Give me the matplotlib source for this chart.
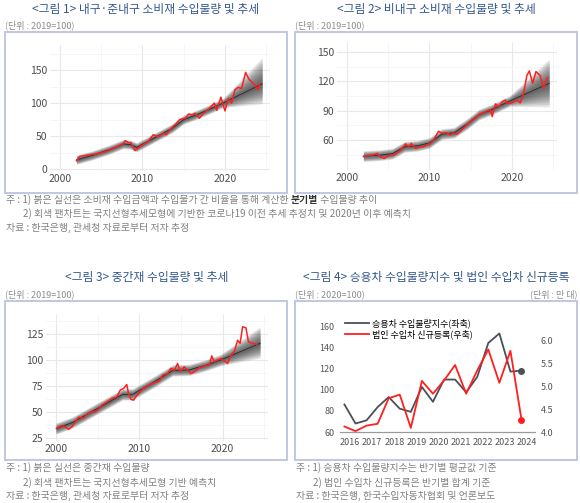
import numpy as np
import matplotlib.pyplot as plt
from matplotlib.patches import Rectangle

plt.rcParams['font.family'] = ['Noto Sans CJK KR', 'DejaVu Sans']

# ---- 그림 1: 내구·준내구 소비재 ----
c1_red_x = [2002.0, 2002.4, 2003.0, 2003.6, 2004.2, 2004.8, 2005.3, 2005.7, 2006.5, 2007.1,
            2007.7, 2007.9, 2008.3, 2008.6, 2008.9, 2009.1, 2009.7, 2010.1, 2010.7, 2011.3,
            2011.9, 2012.5, 2012.9, 2013.5, 2014.1, 2014.5, 2015.2, 2015.6, 2016.0, 2016.4,
            2016.9, 2017.4, 2018.0, 2018.7, 2019.0, 2019.5, 2019.7, 2020.0, 2020.4, 2020.8,
            2021.2, 2021.6, 2022.0, 2022.5, 2022.9, 2023.4, 2023.9, 2024.0, 2024.2]
c1_red_y = [12.6, 19, 20.5, 21.6, 22.5, 24, 25.5, 27, 32, 35,
            39, 43, 40, 40, 32, 28, 34, 37, 42, 52,
            49, 54, 52, 62, 69, 75, 77, 83.5, 82, 84.5,
            77, 84.5, 90.6, 100, 89, 109, 100, 88, 107, 100,
            120, 124, 122, 146.5, 136, 130, 122, 120, 130]
c1_trend_x = [2002, 2004, 2006, 2007.7, 2008.5, 2009.3, 2010.5, 2012, 2013.5, 2015,
              2016.5, 2018, 2019.75, 2024.5]
c1_trend_y = [14, 21, 29.5, 38, 37, 33, 41, 51, 61, 75, 82, 90, 100, 129]
c1_fan_up = [7] * 13 + [40]
c1_fan_dn = [7] * 13 + [30]

# ---- 그림 2: 비내구 소비재 ----
c2_red_x = [2002.0, 2002.6, 2003.2, 2003.7, 2004.0, 2004.5, 2005.0, 2005.7, 2006.3, 2006.7,
            2007.1, 2007.5, 2007.8, 2008.3, 2008.9, 2009.3, 2009.7, 2010.1, 2010.5, 2011.1,
            2011.5, 2012.1, 2012.5, 2012.9, 2013.3, 2013.7, 2014.1, 2014.7, 2015.2, 2015.8,
            2016.2, 2016.6, 2017.0, 2017.4, 2017.6, 2018.0, 2018.4, 2018.8, 2019.2, 2019.4,
            2019.8, 2020.2, 2020.6, 2021.0, 2021.4, 2021.8, 2022.1, 2022.5, 2022.9, 2023.4,
            2023.8, 2024.0, 2024.3]
c2_red_y = [43, 44.4, 44.7, 46.4, 43, 41, 43.7, 44.7, 48, 51.5,
            56, 53, 56.6, 51.5, 53, 53, 55, 56, 60, 69,
            67, 67.5, 65, 67, 66, 68.5, 72, 77, 81, 84.5,
            87, 88, 90, 91, 84, 97, 94, 99, 101, 97.5,
            97.5, 99, 101, 98, 107.5, 126, 130.7, 118, 130, 126,
            113.7, 118, 124]
c2_trend_x = [2002, 2004, 2005.5, 2007, 2008.5, 2010, 2011.5, 2013, 2014.5, 2016,
              2017.5, 2019.75, 2024.5]
c2_trend_y = [43.5, 44.5, 46, 53, 54, 57, 66, 67.5, 76, 86, 91, 100, 118]
c2_fan_up = [5.5] * 12 + [25]
c2_fan_dn = [5.5] * 12 + [24]

# ---- 그림 3: 중간재 ----
c3_red_x = [2000.1, 2000.7, 2001.1, 2001.5, 2001.9, 2002.7, 2003.3, 2003.8, 2004.3, 2004.7,
            2005.1, 2005.5, 2006.1, 2006.7, 2007.3, 2007.7, 2008.1, 2008.5, 2008.7, 2009.0,
            2009.3, 2009.7, 2010.4, 2011.1, 2011.8, 2012.4, 2012.8, 2013.4, 2013.8, 2014.2,
            2014.6, 2014.9, 2015.4, 2015.8, 2016.2, 2016.6, 2017.2, 2017.6, 2018.0, 2018.4,
            2018.7, 2019.0, 2019.4, 2019.8, 2020.2, 2020.6, 2021.0, 2021.4, 2021.8, 2022.1,
            2022.4, 2022.8, 2023.1, 2023.6, 2024.1]
c3_red_y = [34.6, 37, 35.6, 33.4, 35.6, 45, 44, 48.5, 50.7, 50,
            52.6, 56.5, 59.7, 63, 64.5, 71, 72.6, 76.4, 67.8, 62.3,
            61.3, 66, 72, 75.8, 78.4, 79.7, 85.5, 87, 92, 90,
            96.7, 88.7, 93.5, 90, 87, 88.7, 92.5, 93.5, 95, 95,
            104, 98.3, 100, 101.5, 99, 96.7, 104.7, 108, 119, 116,
            132, 131, 117.6, 116, 115]
c3_trend_x = [2000, 2002, 2004, 2006, 2008, 2009.2, 2010.5, 2012, 2014, 2016,
              2018, 2019.75, 2024.5]
c3_trend_y = [34, 40, 49, 58, 67, 67, 73, 80, 90, 90.5, 95, 100, 116]
c3_fan_up = [5.5] * 12 + [16]
c3_fan_dn = [5.5] * 12 + [14]

# ---- 그림 4: 승용차 (반기) ----
c4_year = [2016, 2016, 2017, 2017, 2018, 2018, 2019, 2019, 2020, 2020,
           2021, 2021, 2022, 2022, 2023, 2023, 2024]
c4_half = [1, 2, 1, 2, 1, 2, 1, 2, 1, 2, 1, 2, 1, 2, 1, 2, 1]
c4_index = [86, 68, 71, 83.5, 93, 82, 79, 102.5, 88.5, 109.5,
            109.5, 97.5, 112, 144, 153, 117, 118]
c4_regist = [4.12, 4.02, 4.14, 4.18, 4.74, 4.82, 4.09, 5.12, 4.84, 5.13,
             5.47, 4.84, 5.35, 5.81, 5.08, 5.78, 4.27]
c4_labels = ['2016', '2017', '2018', '2019', '2020', '2021', '2022', '2023', '2024']

W, H = 580, 503
fig = plt.figure(figsize=(5.8, 5.03), dpi=100)


def rect(l, t, r, b):
    return [l / W, 1 - b / H, (r - l) / W, (b - t) / H]


def frame(l, t, r, b):
    fig.add_artist(Rectangle((l / W, 1 - b / H), (r - l) / W, (b - t) / H,
                             transform=fig.transFigure, fill=False,
                             ec='#bcc3de', lw=1.3))


def ftext(x, y, s, **kw):
    return fig.text(x / W, 1 - y / H, s, va='center', **kw)


def fan_panel(pos, ylim, yticks, yminor, rx, ry, tx, ty, up, dn):
    ax = fig.add_axes(rect(*pos))
    ax.set_xlim(1998.8, 2025.45)
    ax.set_ylim(ylim)
    for s in ax.spines.values():
        s.set_visible(False)
    ax.set_xticks([2000, 2010, 2020])
    ax.set_xticks([2005, 2015, 2025], minor=True)
    ax.set_yticks(yticks)
    ax.set_yticks(yminor, minor=True)
    ax.set_axisbelow(True)
    ax.grid(True, which='major', color='#e8e8e8', lw=0.8)
    ax.grid(True, which='minor', color='#f3f3f3', lw=0.5)
    ax.tick_params(which='both', length=0, labelsize=7.5, labelcolor='#4d4d4d', pad=2)
    tx, ty, up, dn = map(np.array, (tx, ty, up, dn))
    for f in np.linspace(1, 0.1, 10):
        ax.fill_between(tx, ty - dn * f, ty + up * f, color='#383838', alpha=0.13, lw=0)
    ax.plot(tx, ty, color='#2a2a2a', lw=0.6)
    ax.plot(rx, ry, color='#ff1f1f', lw=1.1)
    return ax


# 패널 틀
frame(5, 32, 287, 193)
frame(295, 32, 577, 193)
frame(5, 301, 287, 460)
frame(295, 301, 577, 460)

fan_panel((50, 45, 270, 171), (-3, 188), [0, 50, 100, 150], [25, 75, 125, 175],
          c1_red_x, c1_red_y, c1_trend_x, c1_trend_y, c1_fan_up, c1_fan_dn)
fan_panel((337, 43, 557, 170), (29.3, 159.3), [60, 90, 120, 150], [45, 75, 105, 135],
          c2_red_x, c2_red_y, c2_trend_x, c2_trend_y, c2_fan_up, c2_fan_dn)
fan_panel((46, 315, 268, 441), (22.1, 143.3), [25, 50, 75, 100, 125], [37.5, 62.5, 87.5, 112.5, 137.5],
          c3_red_x, c3_red_y, c3_trend_x, c3_trend_y, c3_fan_up, c3_fan_dn)

# 그림 4
ax4 = fig.add_axes(rect(340, 320, 535, 432))
x4 = np.array(c4_year) + (np.array(c4_half) - 0.5) / 2
l1, = ax4.plot(x4, c4_index, color='#4a4f58', lw=1.3, label='승용차 수입물량지수(좌축)')
ax4.plot(x4[-1], c4_index[-1], 'o', color='#4a4f58', ms=4)
ax4.set_xlim(2016.05, 2024.86)
ax4.set_ylim(60, 165.7)
ax4.set_yticks([60, 80, 100, 120, 140, 160])
ax4.set_xticks(np.arange(len(c4_labels)) + 2016.5)
ax4.set_xticklabels(c4_labels)
ax4r = ax4.twinx()
l2, = ax4r.plot(x4, c4_regist, color='#ff1f1f', lw=1.3, label='법인 수입차 신규등록(우축)')
ax4r.plot(x4[-1], c4_regist[-1], 'o', color='#ff1f1f', ms=4)
ax4r.set_ylim(4.0, 6.457)
ax4r.set_yticks([4.0, 4.5, 5.0, 5.5, 6.0])
ax4r.set_yticklabels(['4.0', '4.5', '5.0', '5.5', '6.0'])
for a in (ax4, ax4r):
    for k, s in a.spines.items():
        s.set_visible(k == 'bottom')
    a.spines['bottom'].set_color('#9a9a9a')
    a.spines['bottom'].set_linewidth(0.8)
    a.tick_params(length=0, labelsize=6.5, labelcolor='#555555')
ax4.tick_params(axis='x', pad=4.5)
ax4.tick_params(axis='y', pad=4)
ax4r.tick_params(axis='y', pad=4)
ax4.legend(handles=[l1, l2], loc='upper left', bbox_to_anchor=(0.0, 1.06), frameon=False,
           fontsize=6.5, handlelength=2.6, handletextpad=0.4, labelspacing=0.15,
           borderaxespad=0.2)

# 제목 / 단위
tcol = '#34578f'
ftext(146, 9, '<그림 1> 내구·준내구 소비재 수입물량 및 추세', ha='center', fontsize=8.5, color=tcol)
ftext(436, 9, '<그림 2> 비내구 소비재 수입물량 및 추세', ha='center', fontsize=8.5, color=tcol)
ftext(147, 278, '<그림 3> 중간재 수입물량 및 추세', ha='center', fontsize=8.5, color=tcol)
ftext(436, 278, '<그림 4> 승용차 수입물량지수 및 법인 수입차 신규등록', ha='center', fontsize=8.5, color=tcol)
ucol = '#8c8c8c'
ftext(5, 25, '(단위 : 2019=100)', fontsize=6.5, color=ucol)
ftext(295, 25, '(단위 : 2019=100)', fontsize=6.5, color=ucol)
ftext(5, 294, '(단위 : 2019=100)', fontsize=6.5, color=ucol)
ftext(295, 294, '(단위 : 2020=100)', fontsize=6.5, color=ucol)
ftext(577, 294, '(단위 : 만 대)', ha='right', fontsize=6.5, color=ucol)

# 주석
ncol = '#808080'
nfs = 7.1
t = ftext(6, 200, '주 : 1) 붉은 실선은 소비재 수입금액과 수입물가 간 비율을 통해 계산한 ', fontsize=nfs, color=ncol)
fig.canvas.draw()
bb = t.get_window_extent()
t2 = fig.text(bb.x1 / fig.dpi / 5.8, 1 - 200 / H, '분기별', va='center', fontsize=nfs,
              color='#333333', fontweight='bold')
fig.canvas.draw()
bb2 = t2.get_window_extent()
fig.text(bb2.x1 / fig.dpi / 5.8, 1 - 200 / H, ' 수입물량 추이', va='center', fontsize=nfs, color=ncol)
ftext(23, 214, '2) 회색 팬차트는 국지선형추세모형에 기반한 코로나19 이전 추세 추정치 및 2020년 이후 예측치',
      fontsize=nfs, color=ncol)
ftext(6, 228, '자료 : 한국은행, 관세청 자료로부터 저자 추정', fontsize=nfs, color=ncol)

ftext(6, 468, '주 : 1) 붉은 실선은 중간재 수입물량', fontsize=nfs, color=ncol)
ftext(23, 483, '2) 회색 팬차트는 국지선형추세모형 기반 예측치', fontsize=nfs, color=ncol)
ftext(6, 496, '자료 : 한국은행, 관세청 자료로부터 저자 추정', fontsize=nfs, color=ncol)

ftext(296, 468, '주 : 1) 승용차 수입물량지수는 반기별 평균값 기준', fontsize=nfs, color=ncol)
ftext(313, 483, '2) 법인 수입차 신규등록은 반기별 합계 기준', fontsize=nfs, color=ncol)
ftext(296, 496, '자료 : 한국은행, 한국수입자동차협회 및 언론보도', fontsize=nfs, color=ncol)

fig.savefig('out.png', dpi=100)
